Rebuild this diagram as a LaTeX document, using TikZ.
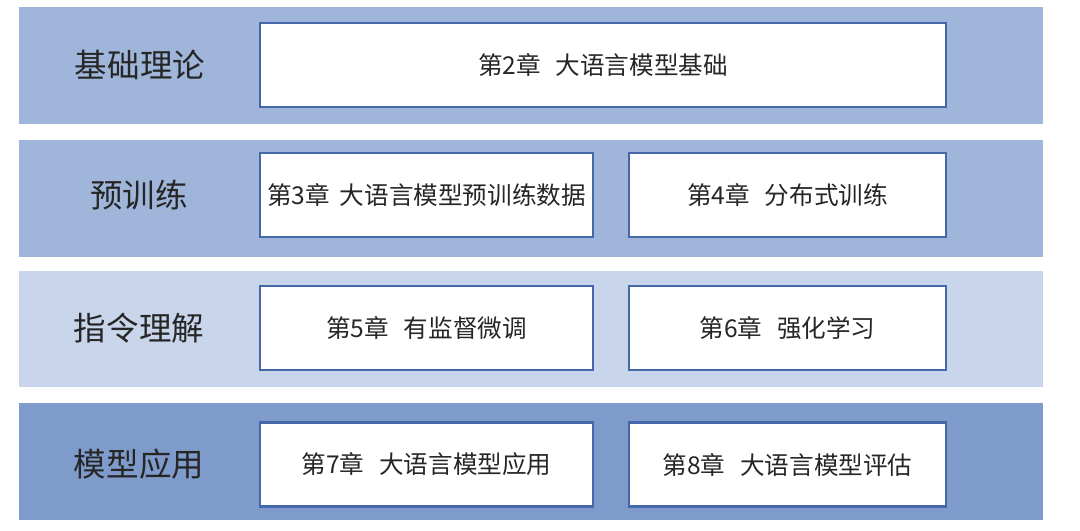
\documentclass[tikz,border=0pt]{standalone}
\usepackage{fontspec}
\setmainfont{Noto Sans CJK SC}
\definecolor{bandmid}{HTML}{9FB5D9}
\definecolor{bandlight}{HTML}{C9D5EA}
\definecolor{banddark}{HTML}{7F9BCB}
\definecolor{boxline}{HTML}{4568AB}
\definecolor{textgray}{HTML}{262626}

\begin{document}
\begin{tikzpicture}[x=0.02cm,y=-0.02cm]
		\tikzstyle{band}=[draw=none, inner sep=0pt, minimum width=20.48cm, minimum height=2.34cm];
		\tikzstyle{chap}=[fill=white, draw=boxline, line width=1.2pt, inner sep=0pt, minimum height=1.68cm, text=textgray, font=\fontsize{14}{16}\selectfont];
		\tikzstyle{part}=[text=textgray, font=\fontsize{18.5}{20}\selectfont];

		\useasboundingbox (0,0) rectangle (1080,531);

		\node[band, fill=bandmid] (B1) at (531,65.5) {};
		\node[band, fill=bandmid] (B2) at (531,198.5) {};
		\node[band, fill=bandlight] (B3) at (531,329) {};
		\node[band, fill=banddark] (B4) at (531,461.5) {};

		\node[part] (L1) at (140,65) {基础理论};
		\node[part] (L2) at (139,195) {预训练};
		\node[part] (L3) at (139,328) {指令理解};
		\node[part] (L4) at (139,464) {模型应用};

		\node[chap, minimum width=13.72cm] (C2) at (603,65) {第2章\hspace{0.6em}大语言模型基础};
		\node[chap, minimum width=6.66cm] (C3) at (426.5,195) {第3章\hspace{0.4em}大语言模型预训练数据};
		\node[chap, minimum width=6.34cm] (C4) at (787.5,195) {第4章\hspace{0.6em}分布式训练};
		\node[chap, minimum width=6.66cm] (C5) at (426.5,328) {第5章\hspace{0.6em}有监督微调};
		\node[chap, minimum width=6.34cm] (C6) at (787.5,328) {第6章\hspace{0.6em}强化学习};
		\node[chap, minimum width=6.66cm] (C7) at (426.5,464.5) {第7章\hspace{0.6em}大语言模型应用};
		\node[chap, minimum width=6.34cm] (C8) at (787.5,464.5) {第8章\hspace{0.6em}大语言模型评估};
\end{tikzpicture}
\end{document}
